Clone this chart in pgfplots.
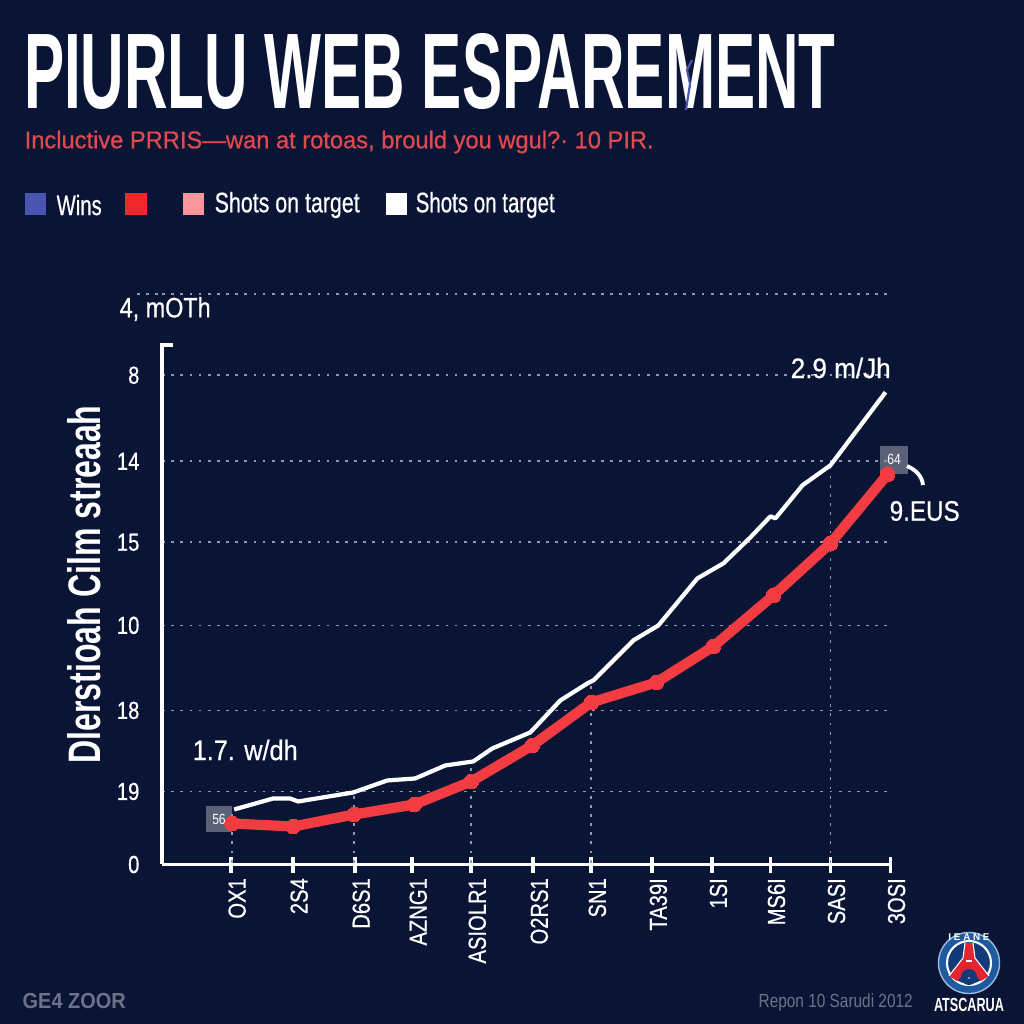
\documentclass[border=0pt]{standalone}
\usepackage{graphicx}
\usepackage{fontspec}
\setmainfont{Liberation Sans}
\newfontfamily\semi[FakeBold=0.6]{Liberation Sans}
\usepackage{pgfplots}
\pgfplotsset{compat=1.18}
\definecolor{bg}{HTML}{0A1536}
\definecolor{lred}{HTML}{F23C42}
\definecolor{sub}{HTML}{E0494E}
\definecolor{sblue}{HTML}{4A55B0}
\definecolor{sred}{HTML}{EF262C}
\definecolor{spink}{HTML}{F9959B}
\definecolor{gridc}{HTML}{8F98B2}
\definecolor{boxc}{HTML}{5B6176}
\definecolor{foot}{HTML}{6C7389}
\definecolor{crest}{HTML}{1E5AA0}
\definecolor{crestin}{HTML}{123A78}
\definecolor{crestl}{HTML}{9DB9DA}
\definecolor{crestr}{HTML}{E32530}
% fit text to a width in px, keeping its height
\newcommand\fitw[2]{\resizebox{#1\dimexpr0.01cm\relax}{\height}{#2}}
\newcommand\tk[1]{\scalebox{0.82}[1]{#1}}
\tikzset{lab/.style={anchor=west, inner sep=0pt, text=white, font=\fontsize{8}{9}\selectfont\semi}}
\begin{document}
\begin{tikzpicture}[x=0.01cm, y=-0.01cm]
\fill[bg] (0,0) rectangle (1024,1024);
% value boxes sit under the lines
\fill[boxc] (206,806) rectangle (232,832);
\fill[boxc] (880,446) rectangle (908,474);
\node[inner sep=0pt, text=white, font=\fontsize{4.2}{5}\selectfont] at (219,819) {\tk{56}};
\node[inner sep=0pt, text=white, font=\fontsize{4.2}{5}\selectfont] at (894,459) {\tk{64}};
\begin{axis}[
  at={(1.62cm,-8.64cm)}, anchor=south west,
  scale only axis, width=7.28cm, height=5.70cm,
  xmin=-70, xmax=658, ymin=-2, ymax=568,
  clip=false,
  axis x line=bottom, axis y line=left,
  x axis line style={-, white, line width=1.1pt},
  y axis line style={draw=none},
  xtick={-1,61,123,180,239,301,359,420,480,538,598,658},
  xticklabels={\tk{OX1},\tk{2S4},\tk{D6S1},\tk{AZNG1},\tk{ASIOLR1},\tk{O2RS1},\tk{SN1},\tk{TA39I},\tk{1SI},\tk{MS6I},\tk{SASI},\tk{3OSI}},
  ytick={-2,71,152,237,320,401,487,568},
  yticklabels={\tk{0},\tk{19},\tk{18},\tk{10},\tk{15},\tk{14},\tk{8},{}},
  tick align=center, major tick length=0.16cm,
  xtick style={white, line width=1.1pt},
  ytick style={draw=none},
  xticklabel style={rotate=90, anchor=east, inner sep=0pt, xshift=-0.05cm, yshift=-0.06cm, text=white,
    font=\fontsize{7}{8}\selectfont\semi},
  yticklabel style={anchor=east, inner sep=0pt, xshift=-0.14cm, text=white,
    font=\fontsize{7}{8}\selectfont\semi},
  ymajorgrids, grid style={gridc, line width=0.5pt, dash pattern=on 0.8pt off 1.8pt},
  title={\resizebox{8.11cm}{0.75cm}{\bfseries PIURLU WEB ESPAREMENT}},
  title style={at={(axis description cs:0.3675,1.3536)}, anchor=center, inner sep=0pt, text=white},
  ylabel={\resizebox{3.58cm}{0.33cm}{\bfseries Dlerstioah Cilm streaah}},
  every axis y label/.style={at={(axis description cs:-0.107,0.491)}, rotate=90, anchor=center,
    inner sep=0pt, text=white},
]
% droplines
\addplot[ycomb, gridc, line width=0.5pt, dash pattern=on 0.8pt off 1.8pt, mark=none]
  coordinates {(0,53) (122,70) (239,101) (359,179) (598,397)};
% white line
\addplot[white, line width=1.2pt, mark=none, line join=round] coordinates {
  (2,53) (41,64) (58,64) (66,61) (121,70) (155,82) (183,84) (213,97) (241,101) (260,114)
  (298,130) (328,162) (355,179) (361,182) (401,222) (426,237) (465,284) (491,299)
  (518,325) (538,346) (543,344) (570,377) (598,397) (653,470)};
% red line
\addplot[lred, line width=2.9pt, mark=*, mark size=2.1pt, mark options={fill=lred, draw=lred, line width=0pt},
  line join=round] coordinates {
  (0,39) (61,36) (122,48) (182,58) (239,81) (300,117) (359,160) (424,180)
  (481,216) (541,267) (598,319) (655,388)};
\end{axis}
% y axis with its short cap, top rule
\draw[white, line width=1.1pt] (173,345) -- (162,345) -- (162,864);
\draw[gridc, line width=0.5pt, dash pattern=on 0.8pt off 1.8pt] (137,294) -- (162,294);
% glitch in the title
\draw[sblue, line width=0.6pt] (686,110) -- (690,84) -- (687,70) -- (692,60);
% subtitle
\node[lab, text=sub, font=\fontsize{6.9}{8}\selectfont\semi] at (24,142) {\fitw{629}{Incluctive PRRIS—wan at rotoas, brould you wgul?· 10 PIR.}};
% legend
\fill[sblue] (25,193) rectangle (46,215);
\fill[sred] (125,193) rectangle (147,215);
\fill[spink] (183,193) rectangle (204,215);
\fill[white] (386,193) rectangle (407,215);
\node[lab] at (56,205) {\fitw{45}{Wins}};
\node[lab] at (214,205) {\fitw{145}{Shots on target}};
\node[lab] at (415,205) {\fitw{139}{Shots on target}};
% annotations
\node[lab] at (119,309) {\fitw{91}{4, mOTh}};
\node[lab] at (192,750) {\fitw{105}{1.7. w/dh}};
\node[lab] at (790,368) {\fitw{100}{2.9 m/Jh}};
\node[lab] at (889,511) {\fitw{70}{9.EUS}};
\draw[white, line width=1.1pt] (907,466) .. controls (916,470) and (922,476) .. (923,485);
% footer
\node[lab, text=foot, font=\fontsize{6.2}{8}\selectfont\bfseries] at (22,1001) {\fitw{103}{GE4 ZOOR}};
\node[lab, text=foot, font=\fontsize{5.4}{8}\selectfont] at (758,1003) {\fitw{154}{Repon 10 Sarudi 2012}};
% crest
\begin{scope}[shift={(969,963)}]
\fill[crest] (0,0) circle (31);
\draw[crestl, line width=0.4pt] (0,0) circle (30.5);
\fill[crestin] (0,0) circle (22);
\draw[white, line width=0.6pt] (0,0) circle (22);
\fill[crestr] (-4,-20) -- (4,-20) -- (6,-5) -- (20,13) -- (12,18) -- (0,6) -- (-12,18) -- (-20,13) -- (-6,-5) -- cycle;
\draw[white, line width=0.3pt] (-4,-20) -- (-6,-5) -- (-20,13);
\draw[white, line width=0.3pt] (4,-20) -- (6,-5) -- (20,13);
\fill[white] (-3,-3) rectangle (3,-1);
\fill[crestin] (0,14) circle (8);
\fill[crestl] (0,15) circle (1.2);
\node[inner sep=0pt, text=white, font=\fontsize{2.8}{3}\selectfont\bfseries] at (0,-25.5) {I E A N E};
\end{scope}
\node[inner sep=0pt, text=white, font=\fontsize{5.4}{7}\selectfont\bfseries] at (969,1005) {\fitw{70}{ATSCARUA}};
\end{tikzpicture}
\end{document}
